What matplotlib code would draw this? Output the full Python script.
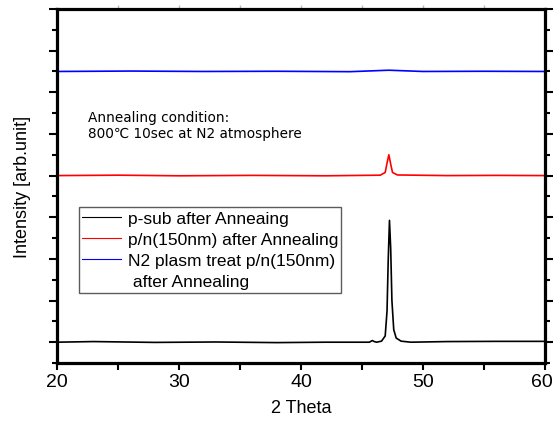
import matplotlib
matplotlib.use('Agg')
import matplotlib.pyplot as plt
from matplotlib.lines import Line2D
from matplotlib.transforms import offset_copy

# peak region points, baselines elsewhere
x_black = [20, 23, 28, 33, 38, 42, 45.6, 45.85, 46.0, 46.2, 46.6, 46.9, 47.05, 47.15, 47.25,
           47.35, 47.45, 47.6, 47.8, 48.2, 49, 52, 56, 60]
y_black = [1.0, 1.03, 0.99, 1.01, 0.98, 1.0, 1.0, 1.08, 1.03, 1.0, 1.05, 1.3, 2.5, 5.0, 6.85,
           5.5, 3.0, 1.6, 1.2, 1.05, 1.0, 1.03, 1.04, 1.04]

x_red = [20, 25, 30, 36, 42, 46.5, 46.9, 47.05, 47.2, 47.35, 47.5, 47.9, 52, 56, 60]
y_red = [9.0, 9.02, 8.99, 9.01, 8.99, 9.02, 9.15, 9.6, 10.0, 9.55, 9.15, 9.03, 9.0, 9.01, 9.0]

x_blue = [20, 26, 32, 38, 44, 47.2, 50, 55, 60]
y_blue = [14.0, 14.02, 14.0, 14.01, 13.99, 14.06, 14.0, 14.01, 14.0]

labels = ['p-sub after Anneaing',
          'p/n(150nm) after Annealing',
          'N2 plasm treat p/n(150nm)',
          ' after Annealing']

plt.rcParams['font.family'] = ['Liberation Sans', 'DejaVu Sans']

fig = plt.figure(figsize=(5.54, 4.27), dpi=100)
ax = fig.add_axes([0.1029, 0.1475, 0.8809, 0.8291])

l1, = ax.plot(x_black, y_black, color='black', lw=1.2)
l2, = ax.plot(x_red, y_red, color='red', lw=1.2)
l3, = ax.plot(x_blue, y_blue, color='blue', lw=1.2)

ax.set_xlim(20, 60)
ax.set_ylim(0, 17)
ax.set_xticks([20, 30, 40, 50, 60])
ax.set_xticks([25, 35, 45, 55], minor=True)
ax.set_yticks(range(1, 18, 2))
ax.set_yticks(range(0, 18, 2), minor=True)
ax.set_yticklabels([])

for s in ax.spines.values():
    s.set_linewidth(2.3)

ax.tick_params(axis='x', which='both', direction='out', length=5, width=1.5,
               labelsize=14, pad=2)
ax.tick_params(axis='y', which='major', direction='out', length=6, width=1.5,
               left=True, right=True)
ax.tick_params(axis='y', which='minor', direction='out', length=3.5, width=1.5,
               left=True, right=True)

# keep the "60" inside the canvas
lab60 = ax.get_xticklabels()[-1]
lab60.set_transform(offset_copy(lab60.get_transform(), fig=fig, x=-3, units='dots'))

# faint top ticks
top = ax.secondary_xaxis('top')
top.set_xticks([25, 30, 35, 40, 45, 50, 55])
top.set_xticklabels([])
top.tick_params(direction='out', length=3, width=1, color='#bbbbbb')
top.spines['top'].set_visible(False)

ax.set_xlabel('2 Theta', fontsize=13, labelpad=7)
ax.set_ylabel('Intensity [arb.unit]', fontsize=13, labelpad=9)

ax.text(22.5, 12.15, 'Annealing condition:\n800℃ 10sec at N2 atmosphere',
        family=['DejaVu Sans'], fontsize=9.8,
        va='top', linespacing=1.2)

# 4th row is the wrapped tail of the blue label, no handle
blank = Line2D([], [], color='none')
leg = ax.legend([l1, l2, l3, blank], labels,
                loc='upper left', bbox_to_anchor=(79 / 554, 1 - 208 / 427),
                bbox_transform=fig.transFigure, borderaxespad=0, fontsize=12.5,
                frameon=True, fancybox=False, handlelength=2.2, handletextpad=0.4,
                labelspacing=0.35, borderpad=0.2)
leg.get_frame().set_edgecolor('#333333')
leg.get_frame().set_linewidth(1.0)
for ln in leg.get_lines()[:3]:
    ln.set_linewidth(0.8)

fig.savefig('out.png', dpi=100)
